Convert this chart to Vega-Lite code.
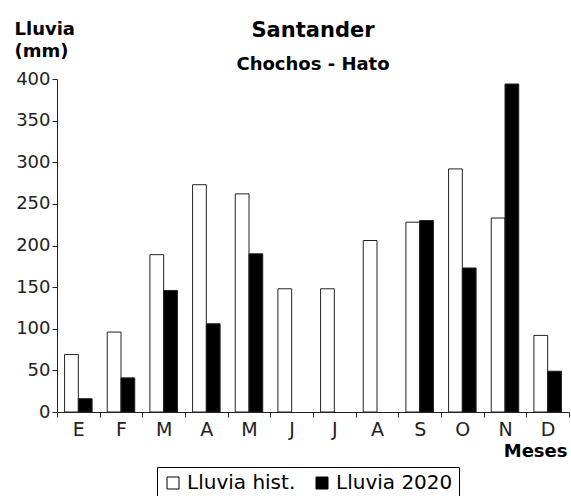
{
  "$schema": "https://vega.github.io/schema/vega-lite/v6.json",
  "autosize": "none",
  "width": 512,
  "height": 333,
  "padding": {"left": 57, "top": 79, "right": 2, "bottom": 84},
  "background": "white",
  "title": {
    "text": "Santander",
    "subtitle": "Chochos - Hato",
    "anchor": "middle",
    "font": "DejaVu Sans",
    "fontSize": 21,
    "fontWeight": "bold",
    "color": "black",
    "subtitleFont": "DejaVu Sans",
    "subtitleFontSize": 18,
    "subtitleFontWeight": "bold",
    "subtitleColor": "black",
    "subtitlePadding": 15,
    "offset": -54
  },
  "data": {
    "values": [
      {"mes": "Ene", "serie": "Lluvia hist.", "lluvia": 69},
      {"mes": "Ene", "serie": "Lluvia 2020", "lluvia": 16},
      {"mes": "Feb", "serie": "Lluvia hist.", "lluvia": 96},
      {"mes": "Feb", "serie": "Lluvia 2020", "lluvia": 41},
      {"mes": "Mar", "serie": "Lluvia hist.", "lluvia": 189},
      {"mes": "Mar", "serie": "Lluvia 2020", "lluvia": 146},
      {"mes": "Abr", "serie": "Lluvia hist.", "lluvia": 273},
      {"mes": "Abr", "serie": "Lluvia 2020", "lluvia": 106},
      {"mes": "May", "serie": "Lluvia hist.", "lluvia": 262},
      {"mes": "May", "serie": "Lluvia 2020", "lluvia": 190},
      {"mes": "Jun", "serie": "Lluvia hist.", "lluvia": 148},
      {"mes": "Jul", "serie": "Lluvia hist.", "lluvia": 148},
      {"mes": "Ago", "serie": "Lluvia hist.", "lluvia": 206},
      {"mes": "Sep", "serie": "Lluvia hist.", "lluvia": 228},
      {"mes": "Sep", "serie": "Lluvia 2020", "lluvia": 230},
      {"mes": "Oct", "serie": "Lluvia hist.", "lluvia": 292},
      {"mes": "Oct", "serie": "Lluvia 2020", "lluvia": 173},
      {"mes": "Nov", "serie": "Lluvia hist.", "lluvia": 233},
      {"mes": "Nov", "serie": "Lluvia 2020", "lluvia": 394},
      {"mes": "Dic", "serie": "Lluvia hist.", "lluvia": 92},
      {"mes": "Dic", "serie": "Lluvia 2020", "lluvia": 49}
    ]
  },
  "mark": {"type": "bar", "stroke": "#222", "strokeWidth": 1},
  "encoding": {
    "x": {
      "field": "mes",
      "type": "nominal",
      "sort": ["Ene","Feb","Mar","Abr","May","Jun","Jul","Ago","Sep","Oct","Nov","Dic"],
      "scale": {"paddingInner": 0, "paddingOuter": 0},
      "axis": {
        "title": "Meses",
        "titleFont": "DejaVu Sans",
        "titleFontSize": 18,
        "titleFontWeight": "bold",
        "titleColor": "black",
        "titleAlign": "right",
        "titleAnchor": null,
        "titleX": 510,
        "titleY": 44,
        "titleBaseline": "alphabetic",
        "labelExpr": "substring(datum.label, 0, 1)",
        "labelAngle": 0,
        "labelFont": "DejaVu Sans",
        "labelFontSize": 19,
        "labelColor": "#222",
        "labelPadding": 3,
        "tickBand": "extent",
        "tickSize": 5,
        "tickColor": "#222",
        "domainColor": "#222"
      }
    },
    "xOffset": {
      "field": "serie",
      "type": "nominal",
      "sort": ["Lluvia hist.", "Lluvia 2020"],
      "scale": {"paddingInner": 0, "paddingOuter": 0.55}
    },
    "y": {
      "field": "lluvia",
      "type": "quantitative",
      "scale": {"domain": [0, 400], "nice": false},
      "axis": {
        "values": [0, 50, 100, 150, 200, 250, 300, 350, 400],
        "grid": false,
        "title": ["Lluvia", "(mm)"],
        "titleFont": "DejaVu Sans",
        "titleFontSize": 18,
        "titleFontWeight": "bold",
        "titleColor": "black",
        "titleAngle": 0,
        "titleAlign": "left",
        "titleBaseline": "top",
        "titleAnchor": null,
        "titleX": -43,
        "titleY": -59,
        "titleLineHeight": 22,
        "labelFont": "DejaVu Sans",
        "labelFontSize": 18,
        "labelColor": "#222",
        "labelPadding": 2,
        "tickSize": 5,
        "tickColor": "#222",
        "domainColor": "#222"
      }
    },
    "fill": {
      "field": "serie",
      "type": "nominal",
      "scale": {"domain": ["Lluvia hist.", "Lluvia 2020"], "range": ["white", "black"]},
      "legend": {
        "title": null,
        "orient": "none",
        "legendX": 100,
        "legendY": 388,
        "direction": "horizontal",
        "strokeColor": "black",
        "fillColor": "white",
        "padding": 6,
        "symbolType": "square",
        "symbolSize": 144,
        "symbolStrokeColor": "black",
        "symbolStrokeWidth": 1,
        "labelFont": "DejaVu Sans",
        "labelFontSize": 20,
        "labelColor": "black",
        "labelOffset": 4,
        "columnPadding": 16
      }
    }
  },
  "config": {
    "view": {"stroke": null},
    "axis": {"grid": false}
  }
}
